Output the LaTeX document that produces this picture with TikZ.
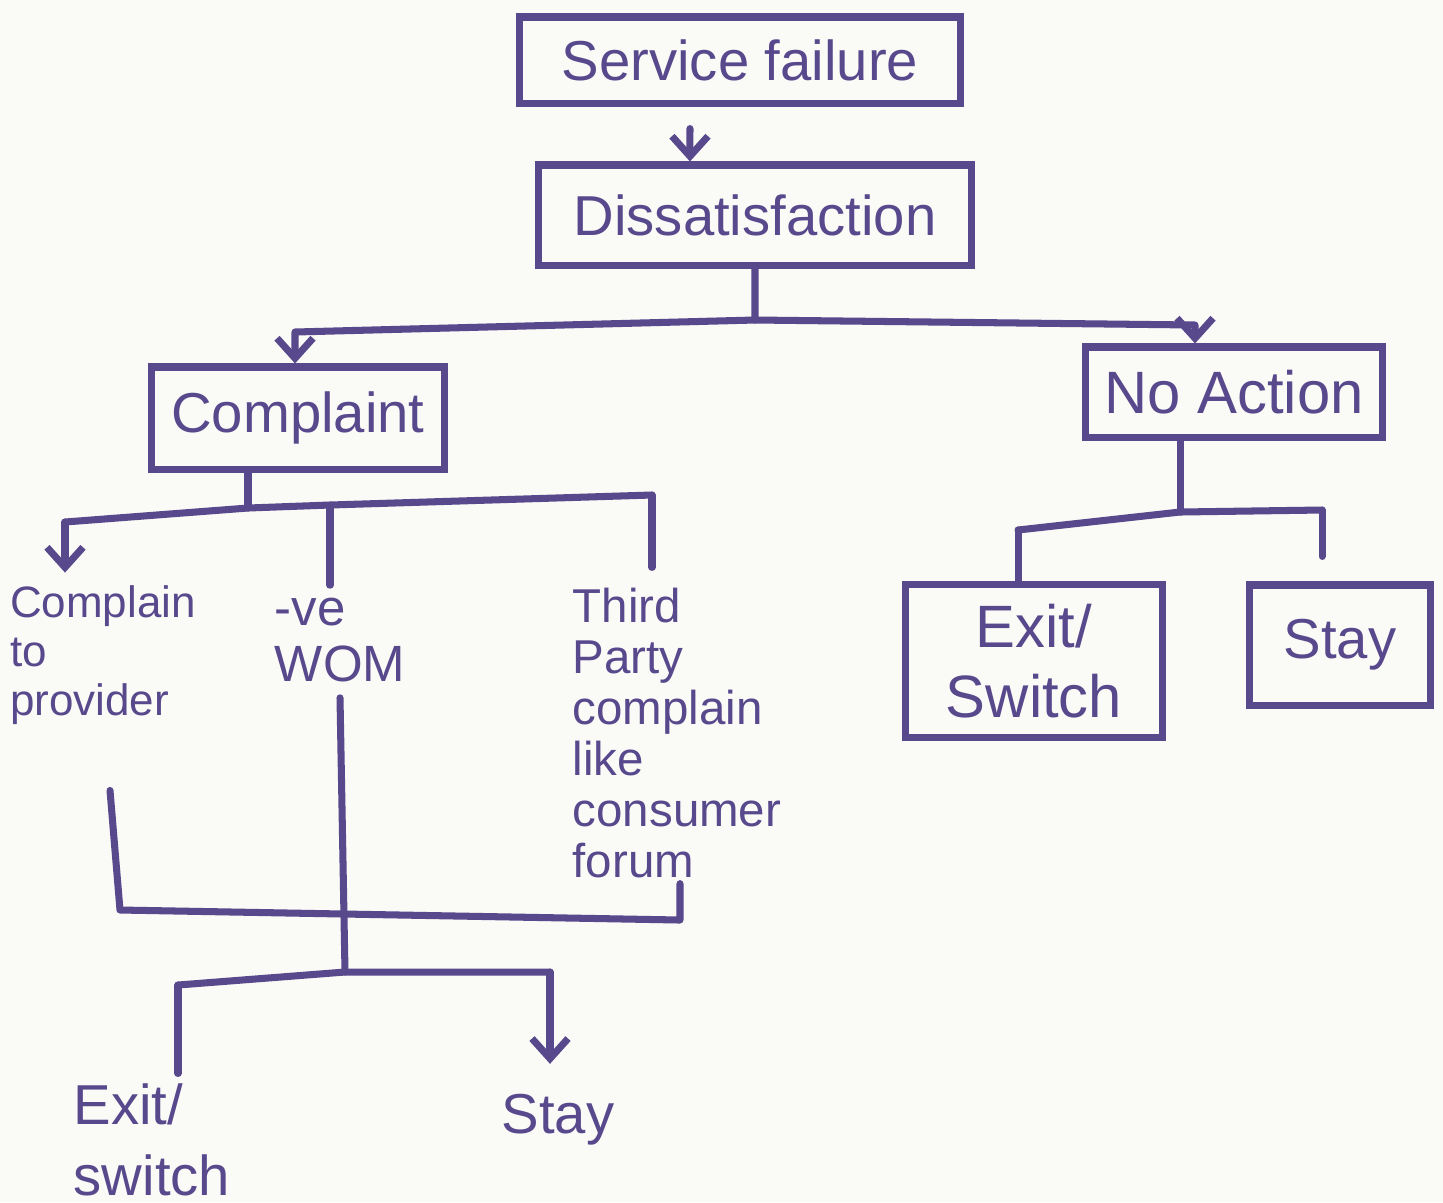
\documentclass[tikz,border=0pt]{standalone}
\usepackage{fontspec}
\setmainfont{Liberation Sans}
\usetikzlibrary{arrows.meta}
\definecolor{ink}{RGB}{88,72,140}
\definecolor{paper}{RGB}{250,250,247}
\begin{document}
\begin{tikzpicture}[x=0.01cm,y=-0.01cm,
  inkline/.style={draw=ink, line width=2pt, line cap=round, line join=round},
  arr/.style={inkline, -{Straight Barb[length=0.2cm,width=0.36cm]}},
  box/.style={draw=ink, line width=2pt, rectangle, inner sep=0pt, text=ink, align=center},
  lbl/.style={text=ink, inner sep=0pt},
  big/.style={font=\fontsize{16}{18}\selectfont},
  mid/.style={font=\fontsize{13.5}{14.5}\selectfont}]
\fill[paper] (0,0) rectangle (1443,1202);
\useasboundingbox (0,0) rectangle (1443,1202);

% boxes
\node[box, big, minimum width=4.4cm, minimum height=0.86cm] (sf) at (740,60) {Service failure};
\node[box, big, minimum width=4.32cm, minimum height=1.0cm] (dis) at (755,215) {Dissatisfaction};
\node[box, big, minimum width=2.92cm, minimum height=1.02cm] (comp) at (298,418) {Complaint};
\node[box, font=\fontsize{17}{19}\selectfont, minimum width=2.96cm, minimum height=0.9cm] (noact) at (1234,392) {No Action};
\node[box, font=\fontsize{17}{20}\selectfont, minimum width=2.56cm, minimum height=1.52cm] (exit1) at (1034,661) {Exit/\\Switch};
\node[box, big, minimum width=1.8cm, minimum height=1.2cm] (stay1) at (1340,645) {Stay};

% free labels
\node[lbl, align=left, font=\fontsize{12.5}{14}\selectfont] (cp) at (103,655) {Complain\\to\\provider};
\node[lbl, align=left, font=\fontsize{14.5}{16}\selectfont] (wom) at (340,640) {-ve\\WOM};
\node[lbl, align=left, mid] (tp) at (677,733) {Third\\Party\\complain\\like\\consumer\\forum};
\node[lbl, align=left, font=\fontsize{16}{20}\selectfont] (exit2) at (152,1140) {Exit/\\switch};
\node[lbl, big] (stay2) at (558,1120) {Stay};

% junction coordinates
\coordinate (d1) at (755,320);
\coordinate (d2) at (295,332);
\coordinate (d3) at (1195,325);
\coordinate (c1) at (248,508);
\coordinate (c2) at (65,522);
\coordinate (c3) at (652,495);
\coordinate (c4) at (330,505);
\coordinate (n1) at (1180,512);
\coordinate (n2) at (1018,530);
\coordinate (n3) at (1322,510);
\coordinate (m1) at (120,910);
\coordinate (m2) at (680,920);
\coordinate (f0) at (345,972);
\coordinate (f1) at (178,985);
\coordinate (f2) at (550,972);

% connectors
\draw[arr] ([xshift=-0.5cm,yshift=-0.22cm]sf.south) -- ([xshift=-0.65cm]dis.north);
\draw[arr] (dis.south) -- (d1) -- (d2) -- (d2 |- comp.north);
\draw[arr] (d1) -- (d3) -- (d3 |- noact.north);

\draw[inkline] (comp.south -| c1) -- (c1);
\draw[inkline] (c2) -- (c1) -- (c4) -- (c3);
\draw[arr] (c2) -- ([yshift=0.12cm]c2 |- cp.north);
\draw[inkline] (c4) -- ([yshift=0.12cm]c4 |- wom.north);
\draw[inkline] (c3) -- ([yshift=0.2cm]c3 |- tp.north);

\draw[inkline] (noact.south -| n1) -- (n1);
\draw[inkline] (n2) -- (n1) -- (n3);
\draw[inkline] (n2) -- (n2 |- exit1.north);
\draw[inkline] (n3) -- ([yshift=0.25cm]n3 |- stay1.north);

\draw[inkline] ([xshift=0.07cm,yshift=-0.65cm]cp.south) -- (m1) -- (m2) -- ([yshift=-0.05cm]m2 |- tp.south);
\draw[inkline] ([yshift=-0.15cm]wom.south) -- (f0);
\draw[inkline] (f1) -- (f0) -- (f2);
\draw[inkline] (f1) -- ([yshift=0.1cm]f1 |- exit2.north);
\draw[arr] (f2) -- ([yshift=0.3cm]f2 |- stay2.north);
\end{tikzpicture}
\end{document}
